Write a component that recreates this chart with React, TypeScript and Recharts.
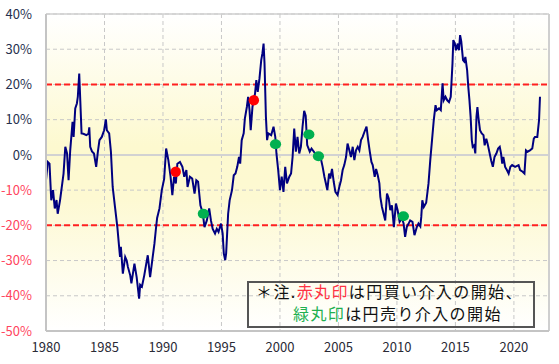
import React from 'react';
import { ComposedChart, Line, Scatter, XAxis, YAxis, CartesianGrid, ReferenceLine } from 'recharts';

const years = [
  1980.0, 1980.15, 1980.3, 1980.45, 1980.6, 1980.75, 1980.9, 1981.0, 1981.2, 1981.5, 1981.65, 1981.8, 1981.93,
  1982.07, 1982.27, 1982.36, 1982.5, 1982.64, 1982.72, 1982.84, 1982.93, 1983.04, 1983.2, 1983.45, 1983.63, 1983.7,
  1983.78, 1983.93, 1984.1, 1984.29, 1984.43, 1984.57, 1984.77, 1984.97, 1985.12, 1985.2, 1985.4, 1985.55, 1985.7,
  1985.9, 1986.1, 1986.25, 1986.33, 1986.4, 1986.57, 1986.77, 1986.9, 1987.0, 1987.2, 1987.3, 1987.56, 1987.75,
  1987.96, 1988.05, 1988.2, 1988.4, 1988.55, 1988.7, 1988.9, 1989.1, 1989.27, 1989.4, 1989.5, 1989.7, 1989.9,
  1990.1, 1990.27, 1990.35, 1990.46, 1990.65, 1990.8, 1990.95, 1991.1, 1991.23, 1991.45, 1991.66, 1991.82, 1992.0,
  1992.1, 1992.3, 1992.5, 1992.7, 1992.85, 1993.0, 1993.2, 1993.4, 1993.55, 1993.75, 1993.95, 1994.1, 1994.25,
  1994.45, 1994.6, 1994.75, 1994.96, 1995.1, 1995.2, 1995.32, 1995.4, 1995.57, 1995.7, 1995.9, 1996.05, 1996.2,
  1996.35, 1996.5, 1996.6, 1996.73, 1996.9, 1997.0, 1997.17, 1997.28, 1997.4, 1997.5, 1997.65, 1997.75, 1997.87,
  1997.98, 1998.1, 1998.25, 1998.4, 1998.5, 1998.6, 1998.68, 1998.8, 1998.9, 1999.0, 1999.25, 1999.45, 1999.6,
  1999.7, 1999.85, 2000.0, 2000.15, 2000.3, 2000.45, 2000.6, 2000.8, 2000.95, 2001.08, 2001.22, 2001.36, 2001.5,
  2001.65, 2001.79, 2001.93, 2002.07, 2002.2, 2002.33, 2002.55, 2002.7, 2002.9, 2003.1, 2003.5, 2003.65, 2003.8,
  2003.9, 2004.05, 2004.2, 2004.3, 2004.45, 2004.6, 2004.74, 2004.93, 2005.07, 2005.22, 2005.36, 2005.5, 2005.65,
  2005.78, 2005.93, 2006.07, 2006.22, 2006.36, 2006.5, 2006.65, 2006.79, 2006.93, 2007.07, 2007.22, 2007.4, 2007.54,
  2007.68, 2007.82, 2007.93, 2008.1, 2008.22, 2008.36, 2008.5, 2008.58, 2008.72, 2008.86, 2009.0, 2009.15, 2009.3,
  2009.43, 2009.57, 2009.74, 2009.91, 2010.06, 2010.23, 2010.43, 2010.57, 2010.7, 2010.84, 2011.0, 2011.13, 2011.33,
  2011.5, 2011.7, 2011.84, 2012.0, 2012.08, 2012.17, 2012.3, 2012.5, 2012.7, 2012.85, 2013.0, 2013.15, 2013.3,
  2013.4, 2013.6, 2013.75, 2013.9, 2014.0, 2014.15, 2014.3, 2014.45, 2014.6, 2014.75, 2014.82, 2014.95, 2015.05,
  2015.2, 2015.3, 2015.4, 2015.5, 2015.65, 2015.75, 2015.85, 2016.0, 2016.1, 2016.2, 2016.3, 2016.4, 2016.48, 2016.6,
  2016.7, 2016.8, 2016.88, 2016.96, 2017.1, 2017.25, 2017.4, 2017.5, 2017.64, 2017.75, 2017.93, 2018.05, 2018.2,
  2018.34, 2018.5, 2018.65, 2018.79, 2018.9, 2019.0, 2019.1, 2019.25, 2019.4, 2019.55, 2019.7, 2019.85, 2020.1,
  2020.4, 2020.53, 2020.75, 2020.9, 2021.03, 2021.17, 2021.37, 2021.57, 2021.7, 2021.8, 2022.0, 2022.15, 2022.23,
];

const values = [
  -7.2, -2.0, -2.5, -12.9, -10.0, -15.2, -12.8, -16.7, -12.9, -5.3, 2.3, 0.4, -7.2,
  1.3, 9.4, 5.1, 13.2, 14.6, 16.5, 23.1, 15.5, 6.1, 6.0, 5.6, 6.0, 7.8,
  2.3, 1.0, 0.4, -3.4, 0.8, 4.2, 5.1, 7.0, 10.1, 7.0, 6.1, 0.9, -9.1,
  -14.8, -20.5, -26.1, -29.0, -26.1, -33.7, -29.0, -30.0, -31.8, -34.2, -36.5, -30.9, -34.7,
  -40.8, -36.9, -37.4, -34.2, -31.3, -28.5, -34.7, -29.5, -25.2, -20.9, -17.9, -15.2, -10.0,
  -6.8, 1.8, 0.4, -1.5, -6.2, -11.4, -6.2, -8.1, -2.5, -2.0, -3.4, -6.2, -4.3,
  -9.1, -6.2, -6.7, -11.0, -7.2, -7.6, -14.3, -16.5, -20.5, -18.6, -15.2, -18.6, -21.0,
  -22.3, -21.0, -21.9, -19.5, -22.3, -28.0, -29.9, -28.0, -16.7, -12.9, -10.0, -5.8, -5.3,
  -3.4, -0.6, -2.5, 4.2, 6.1, 10.3, 13.6, 16.5, 12.7, 7.0, 13.6, 15.5, 17.4,
  21.2, 17.9, 21.7, 26.9, 28.8, 31.6, 26.0, 10.8, 4.2, 6.1, 5.6, 8.0, 5.1,
  0.4, -4.3, -10.0, -6.2, -10.5, -3.4, -8.1, -6.2, -5.3, -0.6, 7.5, 0.9, 5.1,
  0.4, 2.3, 8.0, 12.5, 11.1, 2.8, 0.9, 1.8, 0.9, -0.1, -1.1, -3.4, -6.2,
  -7.7, -10.0, -5.3, -6.7, -4.0, -7.7, -10.5, -11.4, -9.1, -7.2, -4.3, -2.9, -0.6,
  3.2, 1.3, -0.6, 2.3, -1.5, 1.3, 2.3, 1.3, 4.2, 5.1, 6.5, 8.0, 4.2,
  0.9, -2.0, -2.9, -6.2, -4.0, -5.8, -8.1, -11.9, -14.8, -16.7, -18.6, -11.0, -12.4,
  -15.7, -14.3, -20.5, -13.8, -15.7, -19.0, -18.0, -19.5, -23.3, -20.5, -19.5, -18.6, -19.0,
  -22.8, -20.5, -19.5, -20.3, -17.6, -12.9, -14.8, -13.6, -8.1, -1.5, 4.2, 9.9, 14.1,
  12.7, 13.2, 12.7, 20.3, 15.5, 16.5, 15.5, 15.0, 16.5, 26.0, 32.6, 31.6, 29.7,
  31.6, 29.7, 34.0, 32.2, 26.9, 26.5, 27.8, 24.1, 19.3, 15.5, 10.8, 4.2, 2.3, 2.7,
  0.4, 10.8, 13.6, 10.8, 7.0, 6.1, 5.6, 2.7, 4.6, 3.2, 0.4, -1.5, -3.4,
  -0.6, 0.4, 1.8, 2.3, 0.4, -2.5, -0.6, -3.4, -4.3, -5.3, -3.4, -2.9, -3.4,
  -2.9, -4.3, -4.8, -5.3, 1.3, 0.9, 1.3, 1.8, 4.6, 5.1, 5.1, 9.9, 16.5,
];

const buyYears = [1991.09, 1997.77];
const buyValues = [-4.8, 15.5];
const sellYears = [1993.45, 1999.62, 2002.47, 2003.29, 2010.55];
const sellValues = [-16.7, 3.0, 5.8, -0.4, -17.4];

const xTicks = [1980, 1985, 1990, 1995, 2000, 2005, 2010, 2015, 2020];
const yTicks = [-50, -40, -30, -20, -10, 0, 10, 20, 30, 40];
const bandLevels = [20, -20];

const lineData = years.map((x, i) => ({ x, v: values[i] }));
const buyData = buyYears.map((x, i) => ({ x, v: buyValues[i] }));
const sellData = sellYears.map((x, i) => ({ x, v: sellValues[i] }));

const FONT = '"Noto Sans CJK JP", "Noto Sans", sans-serif';

const YTick = (props: any) => {
  const { x, y, payload } = props;
  const v = payload.value;
  return (
    <text x={x} y={y} dy="0.36em" textAnchor="end" fontSize={13} fontFamily={FONT}
      fill={v < 0 ? '#ff4560' : '#26304e'}>{v}%</text>
  );
};

const XTick = (props: any) => {
  const { x, y, payload } = props;
  return (
    <text x={x} y={y} dy="0.71em" textAnchor="middle" fontSize={13} fontFamily={FONT} fill="#2a2a36">
      {payload.value}
    </text>
  );
};

export default function App() {
  return (
    <div style={{ position: 'relative', width: 559, height: 364, background: '#fff' }}>
      <style>{'body{margin:0}'}</style>
      <svg width={0} height={0} style={{ position: 'absolute' }}>
        <defs>
          <linearGradient id="bgGrad" x1="0" y1="0" x2="0" y2="1">
            <stop offset="0%" stopColor="#ffffff" />
            <stop offset="42%" stopColor="#fdf9cf" />
            <stop offset="58%" stopColor="#fdf9d2" />
            <stop offset="100%" stopColor="#ffffff" />
          </linearGradient>
        </defs>
      </svg>
      <ComposedChart width={559} height={364} data={lineData}
        margin={{ top: 14, right: 10, bottom: 0, left: 0 }}>
        <CartesianGrid stroke="#c8c8c8" strokeDasharray="4 3" fill="url(#bgGrad)" fillOpacity={1}
          horizontalValues={yTicks} verticalValues={xTicks} />
        <XAxis dataKey="x" type="number" domain={[1980, 2023]} ticks={xTicks} height={33}
          tickLine={false} tickMargin={6} axisLine={{ stroke: '#c4c4c4', strokeWidth: 2 }}
          tick={<XTick />} interval={0} allowDataOverflow />
        <YAxis type="number" domain={[-50, 40]} ticks={yTicks} width={46}
          tickLine={false} tickMargin={8} axisLine={{ stroke: '#c4c4c4', strokeWidth: 2 }}
          tick={<YTick />} interval={0} />
        <ReferenceLine y={0} stroke="#d2d2d2" strokeWidth={2} />
        <ReferenceLine y={40} stroke="#cfcfcf" strokeWidth={1.5} />
        <ReferenceLine x={2023} stroke="#cfcfcf" strokeWidth={2} />
        {bandLevels.map((lv) => (
          <ReferenceLine key={lv} y={lv} stroke="#ff2020" strokeWidth={2} strokeDasharray="6 3" />
        ))}
        <Line type="linear" dataKey="v" stroke="#000080" strokeWidth={2} dot={false}
          isAnimationActive={false} />
        <Scatter data={buyData} dataKey="v" isAnimationActive={false}
          shape={(p: any) => <ellipse cx={p.cx} cy={p.cy} rx={5.2} ry={5.2} fill="#ff0000" />} />
        <Scatter data={sellData} dataKey="v" isAnimationActive={false}
          shape={(p: any) => <ellipse cx={p.cx} cy={p.cy} rx={5.6} ry={5} fill="#00b050" />} />
      </ComposedChart>
      <div style={{
        position: 'absolute', left: 247, top: 281, width: 284, height: 43,
        border: '2px solid #555', boxSizing: 'content-box', pointerEvents: 'none',
      }} />
      <div style={{
        position: 'absolute', left: 256, top: 281, fontFamily: FONT, fontSize: 16,
        letterSpacing: '1.4px', whiteSpace: 'nowrap', lineHeight: '20px', color: '#111',
      }}>
        ＊注.<span style={{ color: '#ff3344' }}>赤丸印</span>は円買い介入の開始、
      </div>
      <div style={{
        position: 'absolute', left: 293, top: 303, fontFamily: FONT, fontSize: 16,
        letterSpacing: '1.4px', whiteSpace: 'nowrap', lineHeight: '20px', color: '#111',
      }}>
        <span style={{ color: '#22b050' }}>緑丸印</span>は円売り介入の開始
      </div>
    </div>
  );
}
